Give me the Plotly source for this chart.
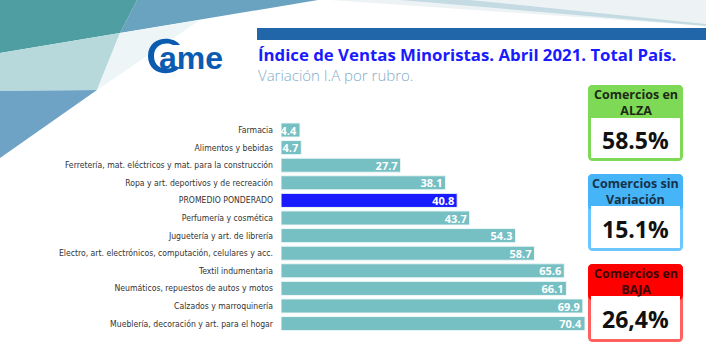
import plotly.graph_objects as go

W, H = 706, 353

categories = [
    "Farmacia",
    "Alimentos y bebidas",
    "Ferretería, mat. eléctricos y mat. para la construcción",
    "Ropa y art. deportivos y de recreación",
    "PROMEDIO PONDERADO",
    "Perfumería y cosmética",
    "Juguetería y art. de librería",
    "Electro, art. electrónicos, computación, celulares y acc.",
    "Textil indumentaria",
    "Neumáticos, repuestos de autos y motos",
    "Calzados y marroquinería",
    "Mueblería, decoración y art. para el hogar",
]
values = [4.4, 4.7, 27.7, 38.1, 40.8, 43.7, 54.3, 58.7, 65.6, 66.1, 69.9, 70.4]
highlight = "PROMEDIO PONDERADO"

box_titles = ["Comercios en<br>ALZA", "Comercios sin<br>Variación", "Comercios en<br>BAJA"]
box_values = ["58.5%", "15.1%", "26,4%"]

title_text = "Índice de Ventas Minoristas. Abril 2021. Total País."
subtitle_text = "Variación I.A por rubro."

TEAL = "#76c0c4"
BLUE = "#1a1aff"
bar_colors = [BLUE if c == highlight else TEAL for c in categories]


def px(x):
    return x / W


def py(y):
    return 1 - y / H


def poly(points):
    s = "M " + " L ".join(f"{px(x):.5f},{py(y):.5f}" for x, y in points) + " Z"
    return s


def rrect(x0, y0, x1, y1, r):
    def P(x, y):
        return f"{px(x):.5f},{py(y):.5f}"
    return (f"M {P(x0 + r, y0)} L {P(x1 - r, y0)} Q {P(x1, y0)} {P(x1, y0 + r)} "
            f"L {P(x1, y1 - r)} Q {P(x1, y1)} {P(x1 - r, y1)} L {P(x0 + r, y1)} "
            f"Q {P(x0, y1)} {P(x0, y1 - r)} L {P(x0, y0 + r)} Q {P(x0, y0)} {P(x0 + r, y0)} Z")


fig = go.Figure()
fig.add_trace(go.Bar(
    x=values,
    y=categories,
    orientation="h",
    marker=dict(color=bar_colors, line=dict(color="#eef7f7", width=1)),
    text=[f"{v:.1f}" for v in values],
    textposition="inside",
    insidetextanchor="end",
    constraintext="none",
    textfont=dict(family="Open Sans", size=11, color="white", weight="bold"),
    hoverinfo="skip",
))

shapes = []
# background decorative polygons
shapes.append(dict(type="path", xref="paper", yref="paper", layer="below", line=dict(width=0),
                   fillcolor="#6aa3c0", path=poly([(137, 0), (318, 0), (120, 33)])))
shapes.append(dict(type="path", xref="paper", yref="paper", layer="below", line=dict(width=0),
                   fillcolor="#4e9ea2", path=poly([(0, 0), (137, 0), (120, 33), (0, 53)])))
shapes.append(dict(type="path", xref="paper", yref="paper", layer="below", line=dict(width=0),
                   fillcolor="#b7d9db", path=poly([(0, 53), (120, 33), (97, 90), (0, 91)])))
shapes.append(dict(type="path", xref="paper", yref="paper", layer="below", line=dict(width=0),
                   fillcolor="#eef5f6", path=poly([(120, 33), (200, 20), (97, 90)])))
shapes.append(dict(type="path", xref="paper", yref="paper", layer="below", line=dict(width=0),
                   fillcolor="#6fa3c6", path=poly([(0, 91), (97, 90), (0, 158)])))
# top right light streaks
shapes.append(dict(type="path", xref="paper", yref="paper", layer="below", line=dict(width=0),
                   fillcolor="#edf3f5", path=poly([(330, 0), (706, 0), (706, 26)])))
shapes.append(dict(type="path", xref="paper", yref="paper", layer="below", line=dict(width=0),
                   fillcolor="#c5dbe4", path=poly([(400, 0), (470, 0), (706, 24), (706, 26)])))
# blue header bar
shapes.append(dict(type="rect", xref="paper", yref="paper", line=dict(width=0),
                   fillcolor="#2166a9", x0=px(257), x1=px(706), y0=py(40), y1=py(28)))

# logo: C ring
cx, cy = 166, 56
rO, rI = 18, 12
shapes.append(dict(type="path", xref="paper", yref="paper", line=dict(width=0), fillcolor="#0b5cb0",
                   path=(f"M {px(cx+14):.5f},{py(cy-11):.5f} "
                         f"C {px(cx+7):.5f},{py(cy-rO-3):.5f} {px(cx-rO):.5f},{py(cy-rO-2):.5f} {px(cx-rO):.5f},{py(cy):.5f} "
                         f"C {px(cx-rO):.5f},{py(cy+rO+2):.5f} {px(cx+7):.5f},{py(cy+rO+3):.5f} {px(cx+14):.5f},{py(cy+11):.5f} "
                         f"L {px(cx+7):.5f},{py(cy+11):.5f} "
                         f"C {px(cx+3):.5f},{py(cy+rI+2):.5f} {px(cx-rI):.5f},{py(cy+rI+2):.5f} {px(cx-rI):.5f},{py(cy):.5f} "
                         f"C {px(cx-rI):.5f},{py(cy-rI-2):.5f} {px(cx+3):.5f},{py(cy-rI-2):.5f} {px(cx+7):.5f},{py(cy-11):.5f} Z")))

annotations = []
annotations.append(dict(text="<b>ame</b>", x=px(157), y=py(58), xref="paper", yref="paper",
                        xanchor="left", yanchor="middle", showarrow=False,
                        font=dict(family="Liberation Sans", size=32, color="#0b5cb0")))
annotations.append(dict(text=title_text, x=px(256), y=py(54), xref="paper", yref="paper",
                        xanchor="left", yanchor="middle", showarrow=False,
                        font=dict(family="Open Sans", size=16.8, color=BLUE, weight="bold")))
annotations.append(dict(text=subtitle_text, x=px(256), y=py(75), xref="paper", yref="paper",
                        xanchor="left", yanchor="middle", showarrow=False,
                        font=dict(family="Open Sans", size=15, color="#7fadc9", weight=300)))

# KPI boxes
box_specs = [
    dict(y0=85, y1=161, hdr=118, fill="#7ed957", tcol="#1c2a14"),
    dict(y0=174, y1=251, hdr=206, fill="#45b5f7", tcol="#17324a"),
    dict(y0=264, y1=342, hdr=296, fill="#ff0000", tcol="#3a0606"),
]
box_borders = ["#7ed957", "#6cc6ff", "#ff6060"]
bx0, bx1 = 588, 683
for spec, border, t, v in zip(box_specs, box_borders, box_titles, box_values):
    shapes.append(dict(type="path", xref="paper", yref="paper", fillcolor=border,
                       line=dict(width=0), path=rrect(bx0, spec["y0"], bx1, spec["y1"], 5)))
    shapes.append(dict(type="path", xref="paper", yref="paper", fillcolor=spec["fill"],
                       line=dict(width=0), path=rrect(bx0, spec["y0"], bx1, spec["hdr"] + 4, 5)))
    shapes.append(dict(type="rect", xref="paper", yref="paper", fillcolor="white",
                       line=dict(width=0), x0=px(bx0 + 3), x1=px(bx1 - 3),
                       y0=py(spec["y1"] - 3), y1=py(spec["hdr"])))
    annotations.append(dict(text=f"<b>{t}</b>", x=px((bx0 + bx1) / 2), y=py((spec["y0"] + spec["hdr"]) / 2 + 1),
                            xref="paper", yref="paper", xanchor="center", yanchor="middle",
                            showarrow=False,
                            font=dict(family="Open Sans", size=12.5, color=spec["tcol"])))
    annotations.append(dict(text=f"<b>{v}</b>", x=px((bx0 + bx1) / 2), y=py((spec["hdr"] + spec["y1"]) / 2),
                            xref="paper", yref="paper", xanchor="center", yanchor="middle",
                            showarrow=False,
                            font=dict(family="Open Sans", size=23, color="#111111")))

bar_left, bar_right = 281, 600
scale = (585 - 281) / 70.4
top, bottom = 121.2, 332.4

fig.update_layout(
    width=W, height=H,
    margin=dict(l=0, r=0, t=0, b=0),
    paper_bgcolor="white", plot_bgcolor="rgba(0,0,0,0)",
    showlegend=False,
    bargap=0.2,
    shapes=shapes,
    annotations=annotations,
    xaxis=dict(domain=[px(bar_left), px(bar_right)], range=[0, (bar_right - bar_left) / scale],
               visible=False, fixedrange=True),
    yaxis=dict(domain=[py(bottom), py(top)], autorange="reversed", showgrid=False,
               zeroline=False, showline=False, ticks="", ticklabelstandoff=7,
               tickfont=dict(family="DejaVu Sans Condensed, Roboto", size=8.6, color="#333333"),
               fixedrange=True),
)

fig.write_html("out.html")
